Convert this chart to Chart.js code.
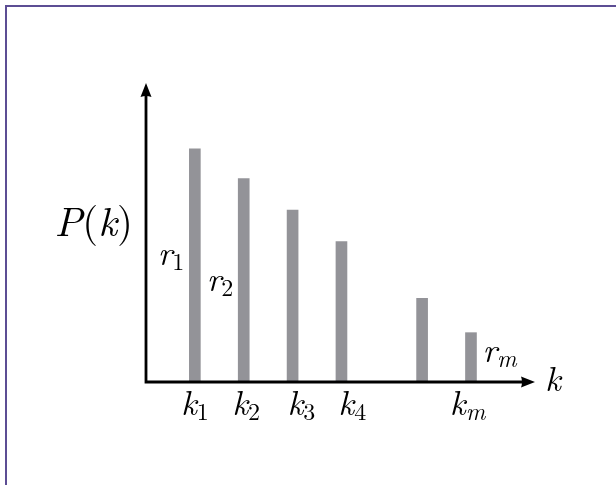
<!DOCTYPE html>
<html>
<head>
<meta charset="utf-8">
<script src="https://cdn.jsdelivr.net/npm/chart.js@4.4.1/dist/chart.umd.min.js"></script>
<style>
  html, body { margin: 0; padding: 0; background: #fff; }
  #frame {
    position: absolute; left: 5px; top: 5px; width: 611px; height: 480px;
    border-left: 2px solid #5c4d94; border-top: 2px solid #5c4d94;
  }
  #chart { position: absolute; left: 0; top: 0; }
</style>
</head>
<body>
<div id="frame"></div>
<canvas id="chart" width="616" height="485"></canvas>
<script>
// bar positions along k and their heights P(k)
const kValues = [1, 2, 3, 4, 5.65, 6.65];
const pValues = [7.8, 6.8, 5.75, 4.7, 2.8, 1.65];

// tick labels under the k axis (subscript, position on k)
const tickSubs = ['1', '2', '3', '4', 'm'];
const tickAt = [1, 2.05, 3.18, 4.22, 6.58];

// r labels beside bars (subscript, bar index, level on P axis)
const rSubs = ['1', '2', 'm'];
const rBar = [0, 1, 5];
const rLevel = [3.9, 3.05, 0.67];

const FONT = "'Latin Modern Roman', 'Liberation Serif', serif";
const MAIN = 34.5, SUB = 24, TITLE = 41;

// draw a math-ish string: parts = [[text, italic, sub]]
function drawMath(ctx, parts, x, y, align, size) {
  const big = size || MAIN;
  let w = 0;
  const sized = parts.map(([t, it, sub]) => {
    ctx.font = (it ? 'italic ' : '') + (sub ? SUB : big) + 'px ' + FONT;
    const pw = ctx.measureText(t).width;
    w += pw;
    return { t, font: ctx.font, sub, pw };
  });
  let cx = align === 'center' ? x - w / 2 : align === 'right' ? x - w : x;
  ctx.textAlign = 'left';
  ctx.textBaseline = 'alphabetic';
  sized.forEach((p) => {
    ctx.font = p.font;
    ctx.fillText(p.t, cx, p.sub ? y + 5 : y);
    cx += p.pw;
  });
}

const axesAndText = {
  id: 'axesAndText',
  afterDatasetsDraw(chart) {
    const { ctx, chartArea: a, scales: { x, y } } = chart;
    const x0 = a.left + 1, y0 = a.bottom;
    ctx.save();
    ctx.strokeStyle = '#000';
    ctx.fillStyle = '#000';
    ctx.lineWidth = 2.8;
    ctx.beginPath();
    ctx.moveTo(x0, y0);
    ctx.lineTo(x0, a.top + 10);
    ctx.moveTo(x0 - 1.4, y0);
    ctx.lineTo(a.right - 10, y0);
    ctx.stroke();
    // arrow heads
    ctx.beginPath();
    ctx.moveTo(x0, a.top);
    ctx.lineTo(x0 - 5.5, a.top + 14);
    ctx.quadraticCurveTo(x0, a.top + 12, x0 + 5.5, a.top + 14);
    ctx.closePath();
    ctx.fill();
    ctx.beginPath();
    ctx.moveTo(a.right, y0);
    ctx.lineTo(a.right - 14, y0 - 5.5);
    ctx.quadraticCurveTo(a.right - 12, y0, a.right - 14, y0 + 5.5);
    ctx.closePath();
    ctx.fill();

    // axis titles
    drawMath(ctx, [['P', true], ['(', false], ['k', true], [')', false]], a.left - 12, y.getPixelForValue(4.88), 'right', TITLE);
    drawMath(ctx, [['k', true]], a.right + 10, y0 + 9, 'left');

    // tick labels
    tickSubs.forEach((s, i) => {
      drawMath(ctx, [['k', true], [s, s === 'm', true]], x.getPixelForValue(tickAt[i]), y0 + 33, 'center');
    });

    // r labels
    const bars = chart.getDatasetMeta(0).data;
    rSubs.forEach((s, i) => {
      const bar = bars[rBar[i]];
      const py = y.getPixelForValue(rLevel[i]);
      if (i < 2) {
        drawMath(ctx, [['r', true], [s, s === 'm', true]], bar.x - bar.width / 2 - 5, py, 'right');
      } else {
        drawMath(ctx, [['r', true], [s, s === 'm', true]], bar.x + bar.width / 2 + 6, py, 'left');
      }
    });
    ctx.restore();
  }
};

new Chart(document.getElementById('chart'), {
  type: 'bar',
  data: {
    datasets: [{
      data: kValues.map((k, i) => ({ x: k, y: pValues[i] })),
      backgroundColor: '#939398',
      borderWidth: 0,
      barThickness: 11,
    }],
  },
  options: {
    responsive: false,
    animation: false,
    events: [],
    layout: { padding: { left: 145, right: 81, top: 83, bottom: 103 } },
    plugins: { legend: { display: false }, tooltip: { enabled: false } },
    scales: {
      x: { type: 'linear', offset: false, min: -0.02, max: 7.96, display: false },
      y: { min: 0, max: 10, display: false },
    },
  },
  plugins: [axesAndText],
});
</script>
</body>
</html>
